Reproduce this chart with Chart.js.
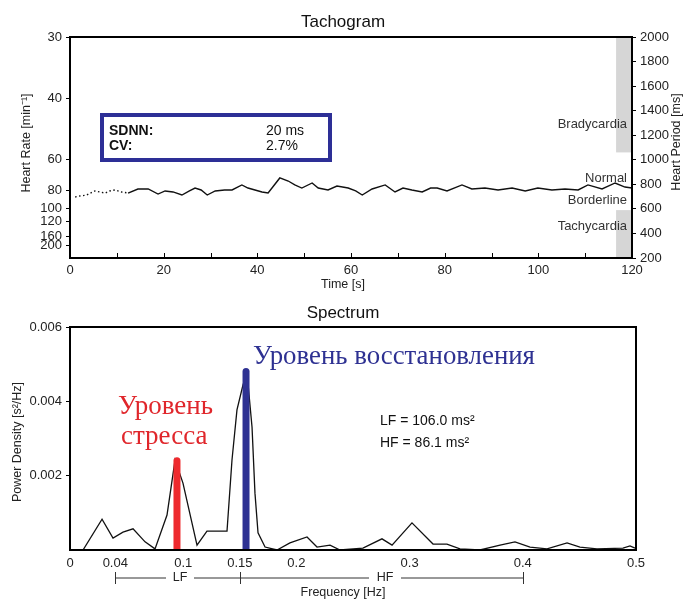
<!DOCTYPE html>
<html><head><meta charset="utf-8">
<script src="https://cdn.jsdelivr.net/npm/chart.js@4/dist/chart.umd.min.js"></script>
<style>
html,body{margin:0;padding:0;background:#fff;width:687px;height:600px;overflow:hidden}
canvas{position:absolute;left:0;display:block}
#c1{top:0}
#c2{top:300px}
</style></head><body>
<canvas id="c1" width="687" height="300"></canvas>
<canvas id="c2" width="687" height="300"></canvas>
<script>
// ---------- Tachogram data ----------
const tachoTime = [1.1,2.1,3.5,5.3,6.3,7.5,8.5,9.6,11.0,12.4,14.5,16.7,18.8,20.3,22.0,23.9,25.5,26.7,28.0,29.3,31.0,33.0,34.6,36.7,38.0,39.5,41.0,42.3,44.8,46.6,48.0,49.5,51.7,53.0,55.1,57.0,59.4,61.0,62.4,64.5,67.3,69.4,71.1,73.0,75.2,77.0,78.4,80.5,83.7,85.8,88.6,91.4,94.4,97.2,99.9,102.9,105.7,108.5,110.6,113.6,116.4,118.5,120.0];
const tachoPeriod = [697,705,712,746,738,729,746,754,738,729,762,762,721,746,738,713,746,770,754,713,746,754,754,795,770,754,738,729,852,827,795,770,811,770,754,786,770,746,713,762,795,738,770,754,738,770,770,746,795,762,770,754,770,746,770,754,762,754,795,762,811,778,770];
const heartRateTicks = [30,40,60,80,100,120,160,200];
const zoneNames = ['Bradycardia','Normal','Borderline','Tachycardia'];
const SDNN_ms = 20;
const CV_pct = 2.7;

// ---------- Spectrum data ----------
const specFreq  = [0.0115,0.0283,0.038,0.0468,0.0557,0.0663,0.0751,0.0857,0.0928,0.0998,0.1122,0.121,0.1387,0.1431,0.1475,0.1528,0.1564,0.1608,0.1634,0.1661,0.1723,0.1829,0.1943,0.2094,0.2182,0.2297,0.2385,0.2588,0.2756,0.2845,0.3021,0.3207,0.333,0.3445,0.3622,0.3799,0.3931,0.4064,0.4214,0.4391,0.4505,0.4655,0.4885,0.4947,0.4991];
const specPower = [0,0.00083,0.00032,0.00048,0.00057,0.00022,0.00003,0.00094,0.00242,0.0018,0.00013,0.00051,0.00051,0.00242,0.00377,0.00444,0.00476,0.00331,0.00153,0.00046,0.00008,0,0.00019,0.00035,0.00008,0.00013,0,0.00005,0.0003,0.00013,0.00073,0.00016,0.00016,0.00003,0,0.00013,0.00022,0.00008,0.00003,0.00019,0.00008,0.00003,0.00005,0.00011,0.00005];
const specTickValues = [0,0.04,0.1,0.15,0.2,0.3,0.4,0.5];
const specTickLabels = ['0','0.04','0.1','0.15','0.2','0.3','0.4','0.5'];
const powerTicks = [0.002,0.004,0.006];
const stressFreq = [0.0945,0.0945];
const stressLevel = [0,0.0024];
const recoveryFreq = [0.1555,0.1555];
const recoveryLevel = [0,0.0048];
const LF_ms2 = '106.0';
const HF_ms2 = '86.1';
const bandEdges = [0.04,0.15,0.4];

const SANS = '"Liberation Sans", Arial, sans-serif';
const SERIF = '"Liberation Serif", "DejaVu Serif", serif';
Chart.defaults.font.family = SANS;
Chart.defaults.color = '#222';

function fitFont(ctx, text, weight, family, width){
  ctx.font = weight + ' 100px ' + family;
  const w = ctx.measureText(text).width;
  const size = 100 * width / w;
  return weight + ' ' + size.toFixed(2) + 'px ' + family;
}
function txt(ctx, text, x, y, font, color, align, base){
  ctx.font = font; ctx.fillStyle = color;
  ctx.textAlign = align || 'left'; ctx.textBaseline = base || 'middle';
  ctx.fillText(text, x, y);
}
function rot(ctx, text, x, y, font, color){
  ctx.save(); ctx.translate(x, y); ctx.rotate(-Math.PI/2);
  txt(ctx, text, 0, 0, font, color, 'center', 'middle');
  ctx.restore();
}
function frame(ctx, a){
  ctx.save(); ctx.strokeStyle = '#000'; ctx.lineWidth = 2;
  ctx.strokeRect(a.left, a.top, a.right - a.left, a.bottom - a.top);
  ctx.restore();
}

// ---------- Tachogram ----------
const tachoPlugin = {
  id: 'tacho',
  beforeDatasetsDraw(chart){
    const ctx = chart.ctx, x = chart.scales.x, y = chart.scales.yR;
    ctx.save();
    ctx.fillStyle = '#d6d6d6';
    const x0 = x.getPixelForValue(116.6), x1 = x.getPixelForValue(120);
    let t = y.getPixelForValue(2000), b = y.getPixelForValue(1060);
    ctx.fillRect(x0, t, x1 - x0, b - t);
    t = y.getPixelForValue(590); b = y.getPixelForValue(200);
    ctx.fillRect(x0, t, x1 - x0, b - t);
    ctx.restore();
  },
  afterDraw(chart){
    const ctx = chart.ctx, a = chart.chartArea, x = chart.scales.x, y = chart.scales.yR;
    ctx.save();
    frame(ctx, a);
    ctx.strokeStyle = '#000'; ctx.lineWidth = 1;
    for (let t = 10; t < 120; t += 10){
      const px = Math.round(x.getPixelForValue(t)) + 0.5;
      ctx.beginPath(); ctx.moveTo(px, a.bottom); ctx.lineTo(px, a.bottom - 5); ctx.stroke();
    }
    txt(ctx, 'Tachogram', 343, 22, '17px ' + SANS, '#111', 'center');
    rot(ctx, 'Heart Rate [min\u207B\u00B9]', 27, 143, '12.5px ' + SANS, '#222');
    rot(ctx, 'Heart Period [ms]', 677, 142, '12.5px ' + SANS, '#222');
    txt(ctx, 'Time [s]', 343, 285, '12.5px ' + SANS, '#222', 'center');
    const zoneP = [1290, 852, 672, 461];
    zoneNames.forEach((n, i) => txt(ctx, n, 627, y.getPixelForValue(zoneP[i]), '13px ' + SANS, '#333', 'right'));
    ctx.strokeStyle = '#2d2f96'; ctx.lineWidth = 4;
    ctx.strokeRect(102, 115, 228, 45);
    txt(ctx, 'SDNN:', 109, 131, 'bold 14px ' + SANS, '#111');
    txt(ctx, 'CV:', 109, 146, 'bold 14px ' + SANS, '#111');
    txt(ctx, SDNN_ms + ' ms', 266, 131, '14px ' + SANS, '#111');
    txt(ctx, CV_pct + '%', 266, 146, '14px ' + SANS, '#111');
    ctx.restore();
  }
};

const tickFont = {size: 13, family: SANS};
new Chart(document.getElementById('c1'), {
  type: 'line',
  data: { datasets: [{
    data: tachoTime.map((t, i) => ({x: t, y: tachoPeriod[i]})),
    borderColor: '#111', borderWidth: 1.4, pointRadius: 0, tension: 0, fill: false,
    yAxisID: 'yR',
    segment: { borderDash: c => c.p1.parsed.x <= 12.4 ? [1.5, 2.5] : undefined }
  }]},
  options: {
    responsive: false, animation: false, events: [],
    layout: { padding: { top: 37, left: 0, right: 0, bottom: 0 } },
    plugins: { legend: { display: false }, tooltip: { enabled: false }, title: { display: false } },
    scales: {
      x: { type: 'linear', min: 0, max: 120,
        afterFit(s){ s.height = 42; },
        ticks: { stepSize: 20, font: tickFont, color: '#222', padding: 5, maxRotation: 0 },
        grid: { display: false, drawTicks: false }, border: { display: false } },
      yL: { type: 'linear', position: 'left', min: 200, max: 2000,
        afterFit(s){ s.width = 70; },
        afterBuildTicks(s){ s.ticks = heartRateTicks.map(h => ({value: 60000 / h})); },
        ticks: { autoSkip: false, font: tickFont, color: '#222', padding: 4,
          callback: v => String(Math.round(60000 / v)) },
        grid: { drawOnChartArea: false, drawTicks: true, tickLength: 4, color: '#000' },
        border: { display: false } },
      yR: { type: 'linear', position: 'right', min: 200, max: 2000,
        afterFit(s){ s.width = 55; },
        ticks: { stepSize: 200, autoSkip: false, font: tickFont, color: '#222', padding: 4,
          callback: v => String(v) },
        grid: { drawOnChartArea: false, drawTicks: true, tickLength: 4, color: '#000' },
        border: { display: false } }
    }
  },
  plugins: [tachoPlugin]
});

// ---------- Spectrum ----------
const specPlugin = {
  id: 'spec',
  afterDraw(chart){
    const ctx = chart.ctx, a = chart.chartArea, x = chart.scales.x;
    ctx.save();
    frame(ctx, a);
    txt(ctx, 'Spectrum', 343, 13, '17px ' + SANS, '#111', 'center');
    rot(ctx, 'Power Density [s\u00B2/Hz]', 18, 142, '12.5px ' + SANS, '#222');
    txt(ctx, 'Уровень восстановления', 253, 57, fitFont(ctx, 'Уровень восстановления', '', SERIF, 282), '#2e3192');
    const rf = fitFont(ctx, 'Уровень', '', SERIF, 95);
    txt(ctx, 'Уровень', 118, 107, rf, '#e0262b');
    txt(ctx, 'стресса', 121, 137, rf, '#e0262b');
    txt(ctx, 'LF = ' + LF_ms2 + ' ms\u00B2', 380, 121, '14px ' + SANS, '#111');
    txt(ctx, 'HF = ' + HF_ms2 + ' ms\u00B2', 380, 143, '14px ' + SANS, '#111');
    const by = 278;
    const p = bandEdges.map(v => Math.round(x.getPixelForValue(v)) + 0.5);
    const lfx = (p[0] + p[1]) / 2 + 2, hfx = 385;
    ctx.strokeStyle = '#333'; ctx.lineWidth = 1;
    ctx.beginPath();
    ctx.moveTo(p[0], by); ctx.lineTo(lfx - 14, by);
    ctx.moveTo(lfx + 14, by); ctx.lineTo(p[1], by);
    ctx.moveTo(p[1], by); ctx.lineTo(hfx - 16, by);
    ctx.moveTo(hfx + 16, by); ctx.lineTo(p[2], by);
    p.forEach(px => { ctx.moveTo(px, by - 6); ctx.lineTo(px, by + 6); });
    ctx.stroke();
    txt(ctx, 'LF', lfx, by, '12.5px ' + SANS, '#222', 'center');
    txt(ctx, 'HF', hfx, by, '12.5px ' + SANS, '#222', 'center');
    txt(ctx, 'Frequency [Hz]', 343, 293, '12.5px ' + SANS, '#222', 'center');
    ctx.restore();
  }
};

new Chart(document.getElementById('c2'), {
  type: 'line',
  data: { datasets: [
    { data: stressFreq.map((f, i) => ({x: f, y: stressLevel[i]})), borderColor: '#ee2a2e', borderWidth: 7,
      borderCapStyle: 'round', pointRadius: 0, order: 0 },
    { data: recoveryFreq.map((f, i) => ({x: f, y: recoveryLevel[i]})), borderColor: '#2e3192', borderWidth: 7,
      borderCapStyle: 'round', pointRadius: 0, order: 0 },
    { data: specFreq.map((f, i) => ({x: f, y: specPower[i]})), borderColor: '#111', borderWidth: 1.3,
      pointRadius: 0, tension: 0, order: 1 }
  ]},
  options: {
    responsive: false, animation: false, events: [],
    layout: { padding: { top: 27, left: 0, right: 51, bottom: 0 } },
    plugins: { legend: { display: false }, tooltip: { enabled: false }, title: { display: false } },
    scales: {
      x: { type: 'linear', min: 0, max: 0.5,
        afterFit(s){ s.height = 50; },
        afterBuildTicks(s){ s.ticks = specTickValues.map(v => ({value: v})); },
        ticks: { autoSkip: false, maxRotation: 0, font: tickFont, color: '#222', padding: 6,
          callback: (v, i) => specTickLabels[i] },
        grid: { display: false, drawTicks: false }, border: { display: false } },
      y: { type: 'linear', min: 0, max: 0.006,
        afterFit(s){ s.width = 70; },
        afterBuildTicks(s){ s.ticks = powerTicks.map(v => ({value: v})); },
        ticks: { autoSkip: false, font: tickFont, color: '#222', padding: 4, callback: v => v.toFixed(3) },
        grid: { drawOnChartArea: false, drawTicks: true, tickLength: 4, color: '#000' },
        border: { display: false } }
    }
  },
  plugins: [specPlugin]
});
</script>
</body></html>
